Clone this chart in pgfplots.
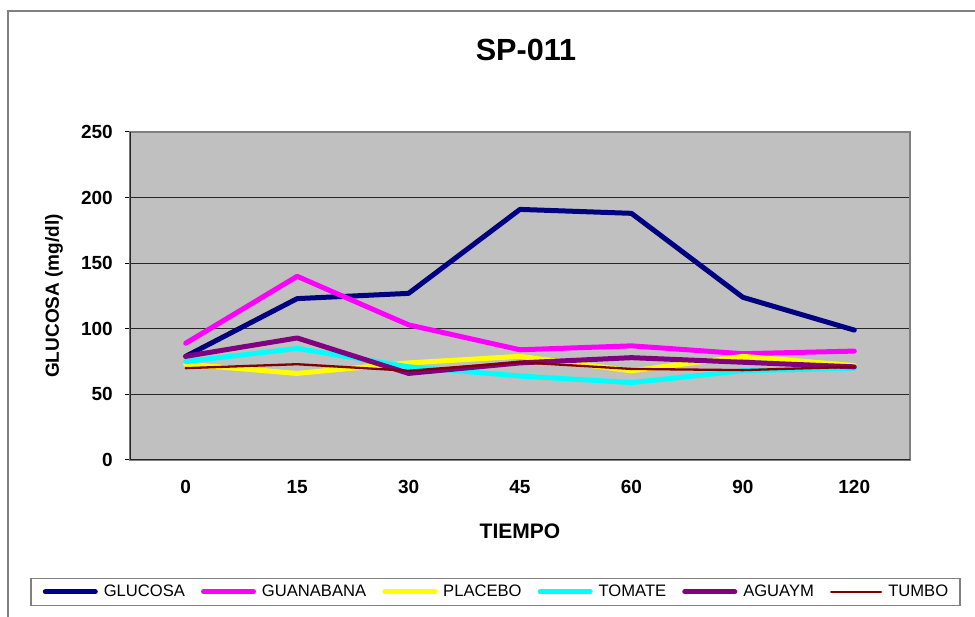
\documentclass[border=0pt]{standalone}
\usepackage{fontspec}
\setmainfont{Liberation Sans}
\usepackage{pgfplots}
\pgfplotsset{compat=1.18}
\definecolor{plotbg}{HTML}{C0C0C0}
\definecolor{frame}{HTML}{808080}
\definecolor{cGlu}{HTML}{000080}
\definecolor{cGua}{HTML}{FF00FF}
\definecolor{cPla}{HTML}{FFFF00}
\definecolor{cTom}{HTML}{00FFFF}
\definecolor{cAgu}{HTML}{800080}
\definecolor{cTum}{HTML}{800000}
\begin{document}
\begin{tikzpicture}
\useasboundingbox (0pt,0pt) rectangle (975pt,617pt);
\clip (0pt,0pt) rectangle (975pt,617pt);
\draw[frame, line width=2pt] (8pt,606pt) rectangle (990pt,-10pt);
\begin{axis}[
  at={(130pt,157pt)}, anchor=south west,
  scale only axis, width=780pt, height=328pt,
  xmin=-0.5, xmax=6.5, ymin=0, ymax=250,
  axis background/.style={fill=plotbg},
  axis line style={draw=frame, line width=2pt},
  xtick={0,1,2,3,4,5,6},
  xticklabels={0,15,30,45,60,90,120},
  xtick style={draw=none},
  minor xtick={-0.5,0.5,1.5,2.5,3.5,4.5,5.5,6.5},
  minor tick length=5pt,
  major tick length=5pt,
  tick align=outside,
  xtick pos=bottom, ytick pos=left,
  ytick={0,50,100,150,200,250},
  tick style={black, line width=1pt},
  ymajorgrids, grid style={draw=black!85, line width=1pt},
  /pgf/number format/assume math mode=true,
  xticklabel style={font=\fontsize{19}{19}\selectfont\bfseries, inner sep=0pt, anchor=north, yshift=-15pt},
  yticklabel style={font=\fontsize{19}{19}\selectfont\bfseries, inner sep=0pt, anchor=east, xshift=-12pt},
  title={SP-011},
  title style={font=\fontsize{30.6}{30.6}\selectfont\bfseries, at={(0.5077,1.2317)}, anchor=center, inner sep=0pt},
  xlabel={TIEMPO},
  xlabel style={font=\fontsize{21}{21}\selectfont\bfseries, at={(0.5,-0.2165)}, anchor=center, inner sep=0pt},
  ylabel={GLUCOSA (mg/dl)},
  ylabel style={font=\fontsize{19}{19}\selectfont\bfseries, at={(-0.0975,0.5)}, anchor=center, rotate=0, inner sep=0pt},
  legend columns=6,
  legend image code/.code={\draw[#1] (0pt,0pt) -- (50pt,0pt);},
  legend style={at={(0.4686,-0.402)}, anchor=center, draw=frame, line width=1.5pt,
    font=\fontsize{16.6}{16.6}\selectfont, inner xsep=12pt, inner ysep=7pt,
    nodes={inner sep=0pt}, cells={anchor=west},
    /tikz/every odd column/.append style={column sep=6pt},
    /tikz/every even column/.append style={column sep=16pt}},
  every axis plot/.append style={line join=round, line cap=round},
]
\addplot[cGlu, line width=5pt] coordinates {(0,79) (1,123) (2,127) (3,191) (4,188) (5,124) (6,99)};
\addlegendentry{GLUCOSA}
\addplot[cGua, line width=5pt] coordinates {(0,89) (1,140) (2,103) (3,84) (4,87) (5,81) (6,83)};
\addlegendentry{GUANABANA}
\addplot[cPla, line width=5pt] coordinates {(0,73) (1,66) (2,74) (3,79) (4,68) (5,79) (6,72)};
\addlegendentry{PLACEBO}
\addplot[cTom, line width=5pt] coordinates {(0,75) (1,85) (2,71) (3,64) (4,59) (5,68) (6,70)};
\addlegendentry{TOMATE}
\addplot[cAgu, line width=5pt] coordinates {(0,79) (1,93) (2,66) (3,74) (4,78) (5,74.5) (6,71)};
\addlegendentry{AGUAYM}
\addplot[cTum, line width=2.3pt] coordinates {(0,70) (1,73) (2,68) (3,74.5) (4,69.4) (5,68.5) (6,71)};
\addlegendentry{TUMBO}
\draw[black!85, line width=2pt] (rel axis cs:0,1) -- (rel axis cs:0,0) -- (rel axis cs:1,0);
\end{axis}
\end{tikzpicture}
\end{document}
